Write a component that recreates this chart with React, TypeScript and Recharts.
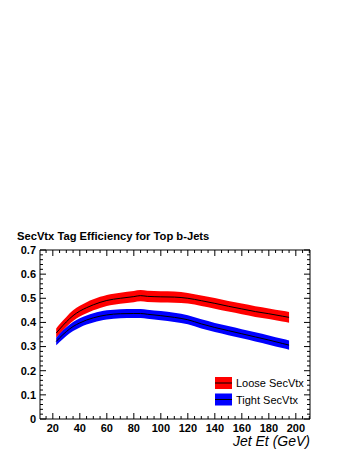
import { Area, ComposedChart, Line, ReferenceArea, XAxis, YAxis } from 'recharts'

// Jet Et bin centres (GeV) and tag efficiencies
const jetEt = [22.5, 25, 30, 35, 40, 45, 50, 55, 60, 70, 80, 85, 90, 100, 110, 120, 130, 140, 150, 160, 170, 180, 190, 195]
const looseEff = [0.356, 0.372, 0.402, 0.428, 0.447, 0.461, 0.473, 0.483, 0.491, 0.5, 0.507, 0.511, 0.508, 0.506, 0.505, 0.5, 0.49, 0.479, 0.467, 0.456, 0.445, 0.436, 0.426, 0.421]
const looseErr = [0.019, 0.02, 0.021, 0.022, 0.022, 0.023, 0.023, 0.023, 0.023, 0.023, 0.023, 0.023, 0.023, 0.023, 0.023, 0.022, 0.022, 0.022, 0.022, 0.022, 0.022, 0.022, 0.022, 0.022]
const tightEff = [0.321, 0.336, 0.362, 0.383, 0.398, 0.41, 0.419, 0.426, 0.431, 0.436, 0.437, 0.437, 0.434, 0.428, 0.421, 0.411, 0.394, 0.379, 0.366, 0.353, 0.34, 0.327, 0.313, 0.306]
const tightErr = [0.016, 0.017, 0.018, 0.019, 0.019, 0.019, 0.019, 0.019, 0.019, 0.019, 0.019, 0.019, 0.019, 0.019, 0.019, 0.019, 0.019, 0.019, 0.019, 0.019, 0.019, 0.019, 0.019, 0.019]

const xMajorTicks = [20, 40, 60, 80, 100, 120, 140, 160, 180, 200]
const yMajorTicks = [0, 0.1, 0.2, 0.3, 0.4, 0.5, 0.6, 0.7]
const xMinorTicks = Array.from({ length: 40 }, (_, i) => 15 + i * 5)
const yMinorTicks = Array.from({ length: 36 }, (_, i) => +(i * 0.02).toFixed(2))

const title = 'SecVtx Tag Efficiency for Top b-Jets'
const xTitle = 'Jet Et (GeV)'
const looseName = 'Loose SecVtx'
const tightName = 'Tight SecVtx'

const data = jetEt.map((et, i) => ({
  et,
  loose: looseEff[i],
  looseBand: [looseEff[i] - looseErr[i], looseEff[i] + looseErr[i]],
  tight: tightEff[i],
  tightBand: [tightEff[i] - tightErr[i], tightEff[i] + tightErr[i]],
}))

const W = 354
const H = 458
const MARGIN = { top: 250, right: 44, bottom: 10, left: 0 }
const Y_AXIS_W = 40
const X_AXIS_H = 29
const PLOT_TOP = MARGIN.top
const PLOT_BOTTOM = H - MARGIN.bottom - X_AXIS_H
const PLOT_LEFT = MARGIN.left + Y_AXIS_W
const PLOT_RIGHT = W - MARGIN.right
const FONT = '"Liberation Sans", Arial, Helvetica, sans-serif'

function XTick(props: any) {
  const { x, y, payload } = props
  const v = payload.value
  const major = xMajorTicks.includes(v)
  const len = major ? 6 : 3
  return (
    <g>
      <line x1={x} x2={x} y1={PLOT_BOTTOM} y2={PLOT_BOTTOM - len} stroke="#000" />
      <line x1={x} x2={x} y1={PLOT_TOP} y2={PLOT_TOP + len} stroke="#000" />
      {major && (
        <text x={x} y={y} dy="0.71em" textAnchor="middle" fontFamily={FONT} fontWeight="bold" fontSize={11} fill="#000">
          {v}
        </text>
      )}
    </g>
  )
}

function YTick(props: any) {
  const { x, y, payload } = props
  const v = payload.value
  const major = yMajorTicks.some((t) => Math.abs(t - v) < 1e-6)
  const len = major ? 6 : 3
  return (
    <g>
      <line x1={PLOT_LEFT} x2={PLOT_LEFT + len} y1={y} y2={y} stroke="#000" />
      <line x1={PLOT_RIGHT} x2={PLOT_RIGHT - len} y1={y} y2={y} stroke="#000" />
      {major && (
        <text x={x} y={y} dy="0.355em" textAnchor="end" fontFamily={FONT} fontWeight="bold" fontSize={11} fill="#000">
          {v === 0 ? '0' : v.toFixed(1)}
        </text>
      )}
    </g>
  )
}

function LegendEntry({ y, color, label }: { y: number; color: string; label: string }) {
  return (
    <g>
      <rect x={215} y={y} width={17} height={12} fill={color} />
      <line x1={215} x2={232} y1={y + 6} y2={y + 6} stroke="#000" />
      <text x={236} y={y + 10} fontFamily={FONT} fontSize={11} fill="#000">
        {label}
      </text>
    </g>
  )
}

export default function App() {
  return (
    <div style={{ position: 'absolute', left: 0, top: 0, width: W, height: H, background: '#fff' }}>
      <ComposedChart width={W} height={H} data={data} margin={MARGIN}>
        <XAxis
          dataKey="et"
          type="number"
          domain={[10.5, 210.5]}
          allowDataOverflow
          ticks={xMinorTicks}
          interval={0}
          height={X_AXIS_H}
          tickSize={0}
          tickMargin={5}
          tickLine={false}
          axisLine={false}
          tick={<XTick />}
        />
        <YAxis
          type="number"
          domain={[0, 0.7]}
          allowDataOverflow
          ticks={yMinorTicks}
          interval={0}
          width={Y_AXIS_W}
          tickSize={0}
          tickMargin={4}
          tickLine={false}
          axisLine={false}
          tick={<YTick />}
        />
        <Area type="monotone" dataKey="looseBand" fill="#ff0000" fillOpacity={1} stroke="none" isAnimationActive={false} />
        <Area type="monotone" dataKey="tightBand" fill="#0000ff" fillOpacity={1} stroke="none" isAnimationActive={false} />
        <Line type="monotone" dataKey="loose" stroke="#000" strokeWidth={1} dot={false} isAnimationActive={false} />
        <Line type="monotone" dataKey="tight" stroke="#000" strokeWidth={1} dot={false} isAnimationActive={false} />
        <ReferenceArea x1={10.5} x2={210.5} y1={0} y2={0.7} fill="none" stroke="#000" strokeWidth={1} ifOverflow="visible" />
      </ComposedChart>
      <svg width={W} height={H} style={{ position: 'absolute', left: 0, top: 0, pointerEvents: 'none' }}>
        <text x={17} y={239.5} fontFamily={FONT} fontWeight="bold" fontSize={11.2} fill="#000">
          {title}
        </text>
        <text x={PLOT_RIGHT} y={445.5} textAnchor="end" fontFamily={FONT} fontStyle="italic" fontSize={14} fill="#000">
          {xTitle}
        </text>
        <LegendEntry y={377} color="#ff0000" label={looseName} />
        <LegendEntry y={393.5} color="#0000ff" label={tightName} />
      </svg>
    </div>
  )
}
